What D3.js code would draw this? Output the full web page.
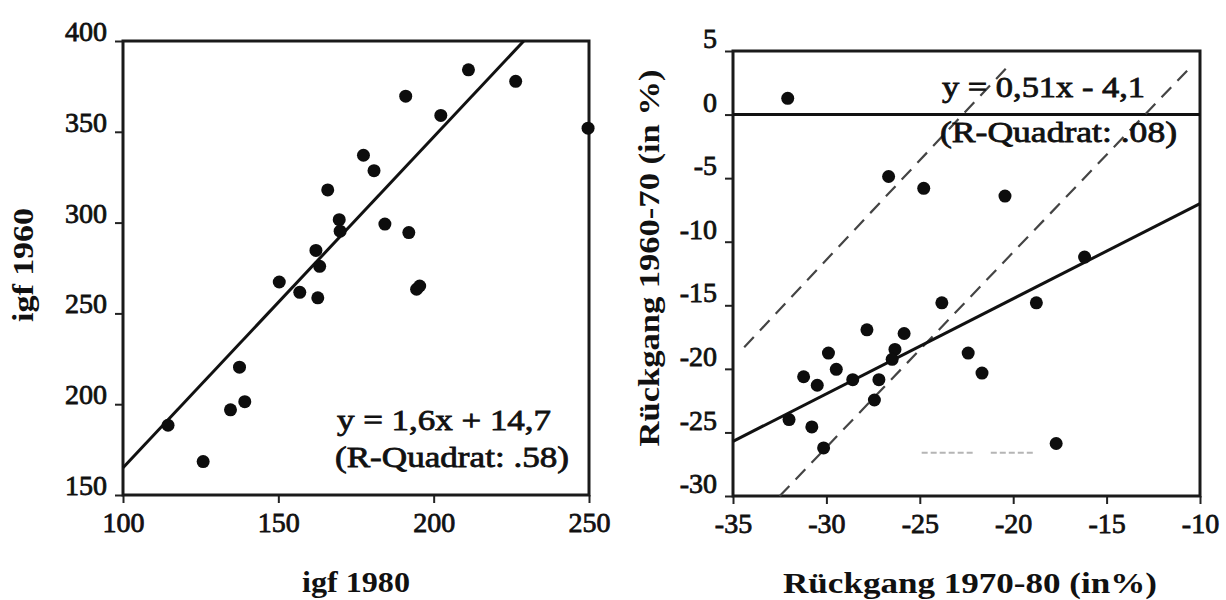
<!DOCTYPE html>
<html>
<head>
<meta charset="utf-8">
<script src="https://cdn.jsdelivr.net/npm/d3@7/dist/d3.min.js"></script>
<style>
  body { margin: 0; background: #fff; }
  svg { display: block; }
  text { font-family: "Liberation Serif", "Times New Roman", serif; fill: #111; }
</style>
</head>
<body>
<svg id="chart"></svg>
<script>
// left panel: igf 1980 (x) vs igf 1960 (y)
var igf1980 = [114.5, 125.8, 134.6, 139.2, 137.5, 150.3, 156.9, 162.1, 163.3, 162.7, 165.9, 169.6,
               169.9, 177.4, 180.8, 184.3, 191.0, 192.0, 194.5, 195.5, 202.3, 211.2, 226.4, 249.7];
var igf1960 = [188.4, 168.4, 196.9, 201.4, 220.4, 267.3, 261.6, 284.7, 275.9, 258.6, 318.0, 301.6,
               295.3, 337.1, 328.6, 299.2, 369.6, 294.5, 263.3, 265.1, 359.0, 384.1, 377.8, 352.0];
var leftXTicks = [100, 150, 200, 250];
var leftYTicks = [150, 200, 250, 300, 350, 400];
var leftFitX = [100, 229];
var leftFitY = [165, 400];
var leftEquation = ["y = 1,6x + 14,7", "(R-Quadrat: .58)"];

// right panel: Rückgang 1970-80 (x) vs Rückgang 1960-70 (y)
var rueck7080 = [-32.07, -26.67, -24.79, -20.44, -16.18, -23.82, -18.76, -27.83, -25.84, -29.89, -26.33, -26.48,
                 -29.47, -22.41, -21.67, -31.22, -30.49, -28.59, -27.19, -27.43, -32.0, -30.78, -30.15, -17.70];
var rueck6070 = [1.28, -4.87, -5.80, -6.41, -11.21, -14.81, -14.81, -16.93, -17.22, -18.76, -18.47, -19.25,
                 -20.04, -18.76, -20.33, -20.62, -21.29, -20.85, -20.85, -22.45, -23.99, -24.57, -26.22, -25.87];
var rightXTicks = [-35, -30, -25, -20, -15, -10];
var rightYTicks = [-30, -25, -20, -15, -10, -5, 0, 5];
var rightFitX = [-35, -10];
var rightFitY = [-25.7, -7.0];
var dashUpperX = [-34.4, -20.4];
var dashUpperY = [-18.3, 3.6];
var dashLowerX = [-32.5, -10.4];
var dashLowerY = [-30, 3.9];
var faintX = [[-24.9, -22.1], [-21.2, -18.9]];
var faintY = -26.6;
var rightEquation = ["y = 0,51x - 4,1", "(R-Quadrat: .08)"];

var serif = "'Liberation Serif', 'Times New Roman', serif";
var svg = d3.select("#chart").attr("width", 1226).attr("height", 600);

function panel(o) {
    var x = d3.scaleLinear().domain(o.xDomain).range(o.xRange);
    var y = d3.scaleLinear().domain(o.yDomain).range(o.yRange);
    var g = svg.append("g");
    var fmt = function (d) { return String(d); }; // plain hyphen, like the scan

    // axes
    var gx = g.append("g")
        .attr("transform", "translate(0," + o.yRange[0] + ")")
        .call(d3.axisBottom(x).tickValues(o.xTicks).tickSize(8).tickPadding(9).tickFormat(fmt));
    var gy = g.append("g")
        .attr("transform", "translate(" + o.xRange[0] + ",0)")
        .call(d3.axisLeft(y).tickValues(o.yTicks).tickSize(8).tickPadding(8).tickFormat(fmt));
    [gx, gy].forEach(function (a) {
        a.attr("font-family", serif);
        a.select(".domain").remove();
        a.selectAll(".tick line").attr("stroke", "#222").attr("stroke-width", 2);
        a.selectAll(".tick text")
            .style("font-family", serif)
            .style("font-size", "28px")
            .attr("stroke", "#111").attr("stroke-width", 0.8);
    });
    gy.selectAll(".tick text").attr("dy", o.yLabelDy);

    // frame
    g.append("rect")
        .attr("x", o.xRange[0]).attr("y", o.yRange[1])
        .attr("width", o.xRange[1] - o.xRange[0])
        .attr("height", o.yRange[0] - o.yRange[1])
        .attr("fill", "none").attr("stroke", "#1a1a1a").attr("stroke-width", 3);

    // axis titles
    g.append("text")
        .attr("x", o.xTitlePos[0]).attr("y", o.xTitlePos[1])
        .attr("text-anchor", "middle")
        .attr("textLength", o.xTitleLen).attr("lengthAdjust", "spacingAndGlyphs")
        .style("font-size", "30px").style("font-weight", "bold")
        .text(o.xTitle);
    g.append("text")
        .attr("transform", "translate(" + o.yTitlePos[0] + "," + o.yTitlePos[1] + ") rotate(-90)")
        .attr("text-anchor", "middle")
        .attr("textLength", o.yTitleLen).attr("lengthAdjust", "spacingAndGlyphs")
        .style("font-size", "30px").style("font-weight", "bold")
        .text(o.yTitle);

    return { g: g, x: x, y: y };
}

function lineOf(p, xs, ys) {
    return d3.line().x(function (d) { return p.x(d[0]); }).y(function (d) { return p.y(d[1]); })(d3.zip(xs, ys));
}

function addEquation(p, lines, pos, lens) {
    lines.forEach(function (t, i) {
        p.g.append("text")
            .attr("x", pos[i][0]).attr("y", pos[i][1])
            .attr("textLength", lens[i]).attr("lengthAdjust", "spacingAndGlyphs")
            .style("font-size", "30px")
            .attr("stroke", "#111").attr("stroke-width", 0.8)
            .text(t);
    });
}

// ---------- left panel ----------
var L = panel({
    xDomain: [100, 250], xRange: [123, 589],
    yDomain: [150, 400], yRange: [495, 41],
    xTicks: leftXTicks, yTicks: leftYTicks, yLabelDy: "-0.02em",
    xTitle: "igf 1980", xTitlePos: [356, 592], xTitleLen: 108,
    yTitle: "igf 1960", yTitlePos: [33, 265], yTitleLen: 114
});

L.g.append("path")
    .attr("d", lineOf(L, leftFitX, leftFitY))
    .attr("fill", "none").attr("stroke", "#111").attr("stroke-width", 3);

L.g.selectAll("circle.pt")
    .data(d3.zip(igf1980, igf1960))
    .enter().append("circle")
    .attr("class", "pt")
    .attr("cx", function (d) { return L.x(d[0]); })
    .attr("cy", function (d) { return L.y(d[1]); })
    .attr("r", 6.5)
    .attr("fill", "#0d0d0d");

addEquation(L, leftEquation, [[337, 430], [335, 467]], [214, 234]);

// ---------- right panel ----------
var R = panel({
    xDomain: [-35, -10], xRange: [733, 1200],
    yDomain: [-30, 5], yRange: [496, 51],
    xTicks: rightXTicks, yTicks: rightYTicks, yLabelDy: "-0.12em",
    xTitle: "Rückgang 1970-80 (in%)", xTitlePos: [970, 593], xTitleLen: 374,
    yTitle: "Rückgang 1960-70 (in %)", yTitlePos: [659, 258], yTitleLen: 377
});

// zero line
R.g.append("path")
    .attr("d", lineOf(R, [-35, -10], [0, 0]))
    .attr("stroke", "#111").attr("stroke-width", 3);

// dashed guide lines
[[dashUpperX, dashUpperY], [dashLowerX, dashLowerY]].forEach(function (s) {
    R.g.append("path")
        .attr("d", lineOf(R, s[0], s[1]))
        .attr("fill", "none").attr("stroke", "#444").attr("stroke-width", 2.2)
        .attr("stroke-dasharray", "14,9");
});

// faint marks near the bottom
faintX.forEach(function (seg) {
    R.g.append("path")
        .attr("d", lineOf(R, seg, [faintY, faintY]))
        .attr("stroke", "#b5b5b5").attr("stroke-width", 2)
        .attr("stroke-dasharray", "6,3");
});

R.g.append("path")
    .attr("d", lineOf(R, rightFitX, rightFitY))
    .attr("fill", "none").attr("stroke", "#111").attr("stroke-width", 3);

R.g.selectAll("circle.pt")
    .data(d3.zip(rueck7080, rueck6070))
    .enter().append("circle")
    .attr("class", "pt")
    .attr("cx", function (d) { return R.x(d[0]); })
    .attr("cy", function (d) { return R.y(d[1]); })
    .attr("r", 6.5)
    .attr("fill", "#0d0d0d");

addEquation(R, rightEquation, [[942, 97], [940, 142]], [203, 237]);
</script>
</body>
</html>
